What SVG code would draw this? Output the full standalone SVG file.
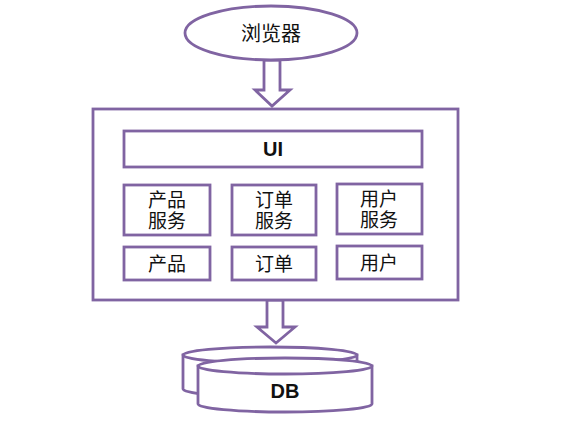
<svg xmlns="http://www.w3.org/2000/svg" width="574" height="431" viewBox="0 0 574 431">
<style>
.s{fill:#fff;stroke:#8064A2;stroke-width:2.8}
.t{font-family:"Liberation Sans","Noto Sans CJK SC",sans-serif;font-size:19px;fill:#111;text-anchor:middle}
.b{font-family:"Liberation Sans",sans-serif;font-size:20px;font-weight:bold;fill:#111;text-anchor:middle}
</style>
<rect width="574" height="431" fill="#fff"/>
<g id="connectors">
<polygon class="s" points="264,60 280,60 280,90 290,90 272,106 255,90 264,90"/>
<polygon class="s" points="267,300 283,300 283,327 295,327 276,343 257,327 267,327"/>
</g>
<g id="browser">
<ellipse class="s" cx="271" cy="33" rx="86" ry="27"/>
<text class="t" x="271" y="41" style="font-size:20px">浏览器</text>
</g>
<g id="app">
<rect class="s" x="93" y="109" width="365" height="191"/>
</g>
<g id="ui">
<rect class="s" x="124" y="131" width="298" height="36"/>
<text class="b" x="273" y="156">UI</text>
</g>
<g id="product-service">
<rect class="s" x="124" y="185" width="86" height="50"/>
<text class="t" x="167" y="207">产品</text>
<text class="t" x="167" y="228">服务</text>
</g>
<g id="order-service">
<rect class="s" x="232" y="185" width="84" height="50"/>
<text class="t" x="274" y="207">订单</text>
<text class="t" x="274" y="228">服务</text>
</g>
<g id="user-service">
<rect class="s" x="337" y="184" width="85" height="50"/>
<text class="t" x="379" y="206">用户</text>
<text class="t" x="379" y="227">服务</text>
</g>
<g id="product">
<rect class="s" x="124" y="247" width="86" height="33"/>
<text class="t" x="167" y="271">产品</text>
</g>
<g id="order">
<rect class="s" x="232" y="247" width="84" height="33"/>
<text class="t" x="274" y="271">订单</text>
</g>
<g id="user">
<rect class="s" x="337" y="246" width="85" height="33"/>
<text class="t" x="379" y="270">用户</text>
</g>
<g id="db-back">
<path class="s" d="M183,355 L183,389 A87,8 0 0 0 357,389 L357,355 Z"/>
<ellipse class="s" cx="270" cy="355" rx="87" ry="8"/>
</g>
<g id="db">
<path class="s" d="M198,366 L198,404 A87,8 0 0 0 372,404 L372,366 Z"/>
<ellipse class="s" cx="285" cy="366" rx="87" ry="8"/>
<text class="b" x="285" y="398">DB</text>
</g>
</svg>
